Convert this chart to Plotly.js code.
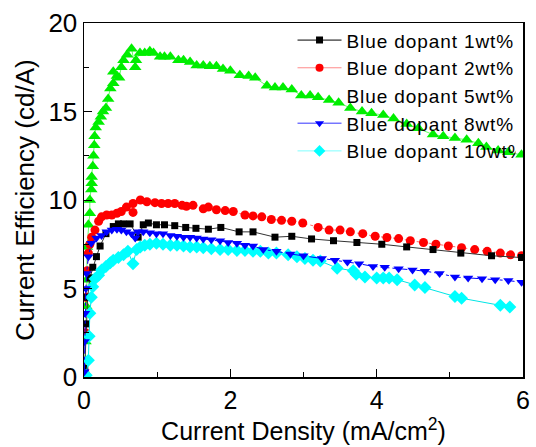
<!DOCTYPE html>
<html><head><meta charset="utf-8">
<script src="https://cdn.plot.ly/plotly-3.0.1.min.js"></script>
<style>html,body{margin:0;padding:0;background:#fff;}#chart{width:536px;height:447px;}
#chart .legendtext{letter-spacing:0.9px;}</style>
</head><body><div id="chart"></div>
<script>
// Blue dopant 1wt% (black squares)
const x1 = [0.01,0.03,0.05,0.08,0.12,0.17,0.22,0.3,0.4,0.47,0.54,0.63,0.74,0.81,0.88,0.99,1.1,1.24,1.39,1.53,1.7,1.87,2.12,2.31,2.61,2.84,3.11,3.41,3.73,4.07,4.41,4.77,5.15,5.57,5.98];
const y1 = [0.5,3.0,4.5,5.6,6.2,6.8,7.4,8.1,8.5,8.65,8.65,8.65,7.9,8.6,8.7,8.6,8.6,8.55,8.45,8.4,8.35,8.45,8.2,8.2,7.9,7.95,7.8,7.7,7.6,7.5,7.35,7.2,7.0,6.85,6.75];
// Blue dopant 2wt% (red circles)
const x2 = [0.01,0.02,0.03,0.04,0.06,0.08,0.105,0.15,0.2,0.24,0.31,0.38,0.45,0.51,0.58,0.67,0.67,0.77,0.86,0.97,1.06,1.15,1.24,1.34,1.4,1.49,1.63,1.7,1.81,1.93,2.04,2.2,2.31,2.43,2.56,2.7,2.84,2.99,3.2,3.35,3.5,3.64,3.81,3.98,4.14,4.3,4.46,4.64,4.81,4.98,5.16,5.34,5.51,5.69,5.83,5.98];
const y2 = [0.3,2.5,4.5,6.0,7.0,7.5,7.9,8.3,8.8,9.05,9.15,9.15,9.25,9.35,9.6,9.3,9.8,10.0,9.9,9.85,9.8,9.8,9.8,9.7,9.65,9.7,9.5,9.6,9.45,9.4,9.35,9.15,9.1,9.05,8.9,8.85,8.8,8.7,8.45,8.3,8.3,8.2,8.1,7.95,7.88,7.82,7.7,7.6,7.5,7.4,7.3,7.2,7.1,7.0,6.9,6.85];
// Blue dopant 5wt% (green triangles)
const x5 = [0.01,0.02,0.03,0.04,0.04,0.06,0.08,0.08,0.1,0.105,0.105,0.12,0.13,0.14,0.145,0.16,0.2,0.23,0.26,0.3,0.33,0.36,0.4,0.4,0.45,0.48,0.51,0.54,0.59,0.65,0.7,0.71,0.765,0.83,0.9,0.95,1.04,1.1,1.18,1.29,1.36,1.45,1.54,1.63,1.72,1.81,1.9,2.0,2.13,2.25,2.34,2.5,2.61,2.72,2.84,2.97,3.09,3.2,3.35,3.48,3.64,3.8,3.93,4.09,4.23,4.41,4.57,4.77,4.91,5.07,5.23,5.39,5.5,5.66,5.8,5.98];
const y5 = [0.3,2.0,4.0,5.5,7.35,8.6,9.25,10.0,10.6,10.95,11.3,11.9,12.5,13.1,13.6,14.1,14.4,14.7,15.0,15.2,15.7,16.3,16.6,17.25,17.0,16.9,17.5,17.9,18.2,18.55,17.5,17.9,18.3,18.3,18.4,18.3,18.1,18.1,18.1,17.9,17.9,17.8,17.6,17.6,17.55,17.55,17.4,17.3,17.05,17.0,16.9,16.45,16.35,16.35,16.25,15.9,15.9,15.8,15.65,15.5,15.2,15.0,14.9,14.8,14.6,14.3,14.05,13.7,13.6,13.5,13.4,13.2,13.0,12.8,12.7,12.55];
// Blue dopant 8wt% (blue down-triangles)
const x8 = [0.005,0.01,0.015,0.025,0.035,0.06,0.1,0.17,0.24,0.31,0.38,0.45,0.51,0.58,0.65,0.7,0.74,0.81,0.9,0.99,1.08,1.18,1.27,1.36,1.45,1.54,1.63,1.74,1.86,1.97,2.09,2.2,2.31,2.45,2.63,2.82,3.0,3.25,3.43,3.6,3.76,3.95,4.11,4.3,4.49,4.66,4.86,5.07,5.25,5.44,5.62,5.8,5.98];
const y8 = [0.3,2.0,3.6,5.0,5.85,6.8,7.55,7.85,8.0,8.2,8.3,8.35,8.3,8.2,8.1,7.85,8.2,8.2,8.15,8.1,8.1,8.0,7.95,7.9,7.9,7.85,7.8,7.75,7.7,7.6,7.55,7.45,7.4,7.2,7.1,6.95,6.85,6.7,6.6,6.5,6.4,6.25,6.2,6.12,6.05,5.98,5.85,5.65,5.6,5.55,5.5,5.45,5.35];
// Blue dopant 10wt% (cyan diamonds)
const x10 = [0.03,0.06,0.07,0.08,0.1,0.12,0.15,0.2,0.24,0.3,0.36,0.4,0.47,0.54,0.6,0.67,0.72,0.77,0.83,0.9,0.99,1.08,1.18,1.27,1.36,1.45,1.54,1.63,1.74,1.86,1.97,2.09,2.2,2.31,2.41,2.52,2.63,2.79,2.91,3.02,3.13,3.23,3.46,3.68,3.72,3.84,4.0,4.09,4.17,4.28,4.52,4.66,5.07,5.16,5.69,5.82];
const y10 = [0.1,0.95,2.3,3.6,4.5,5.1,5.55,5.75,6.05,6.25,6.45,6.6,6.75,6.9,7.1,6.4,7.2,7.35,7.45,7.5,7.55,7.5,7.45,7.45,7.4,7.35,7.35,7.3,7.25,7.2,7.2,7.15,7.15,7.1,7.1,7.0,7.0,6.9,6.8,6.7,6.6,6.55,6.15,6.0,5.8,5.65,5.6,5.6,5.6,5.5,5.2,5.05,4.55,4.45,4.05,3.95];

const names = ['Blue dopant 1wt%','Blue dopant 2wt%','Blue dopant 5wt%','Blue dopant 8wt%','Blue dopant 10wt%'];

const traces = [
  {x:x5, y:y5, mode:'lines+markers', showlegend:false,
   line:{color:'#66ff66', width:1}, marker:{symbol:'triangle-up', size:11, color:'#00ee00'}},
  {x:x2, y:y2, mode:'lines+markers', showlegend:false,
   line:{color:'#ff6666', width:1, dash:'dot'}, marker:{symbol:'circle', size:9, color:'#ff0000'}},
  {x:x1, y:y1, mode:'lines+markers', showlegend:false,
   line:{color:'#333333', width:1}, marker:{symbol:'square', size:7, color:'#000000'}},
  {x:x10, y:y10, mode:'lines+markers', showlegend:false,
   line:{color:'#00e5e5', width:1}, marker:{symbol:'diamond', size:10, color:'#00ffff'}},
  {x:x8, y:y8, mode:'lines+markers', showlegend:false,
   line:{color:'#0000ff', width:1, dash:'dashdot'}, marker:{symbol:'triangle-down', size:9, color:'#0000ff'}},
  // legend entries
  {x:[null], y:[null], name:names[0], mode:'lines+markers', line:{color:'#000', width:1}, marker:{symbol:'square', size:7, color:'#000'}},
  {x:[null], y:[null], name:names[1], mode:'lines+markers', line:{color:'#ff8a8a', width:1}, marker:{symbol:'circle', size:8, color:'#ff0000'}},
  {x:[null], y:[null], name:names[2], mode:'lines+markers', line:{color:'rgba(0,0,0,0)', width:1}, marker:{symbol:'triangle-up', size:8, color:'rgba(0,0,0,0)'}},
  {x:[null], y:[null], name:names[3], mode:'lines+markers', line:{color:'#3333ff', width:1}, marker:{symbol:'triangle-down', size:8, color:'#0000ff'}},
  {x:[null], y:[null], name:names[4], mode:'lines+markers', line:{color:'#7fffff', width:1}, marker:{symbol:'diamond', size:9, color:'#00ffff'}}
];

const layout = {
  width:536, height:447,
  margin:{l:84, r:13, t:23, b:70},
  paper_bgcolor:'#fff', plot_bgcolor:'rgba(0,0,0,0)',
  font:{family:'"Liberation Sans", Arial, sans-serif', color:'#000'},
  showlegend:true,
  legend:{x:0.475, y:1.005, xanchor:'left', yanchor:'top', bgcolor:'rgba(0,0,0,0)', borderwidth:0,
          font:{size:19, color:'#000'}, tracegroupgap:0, itemwidth:44},
  xaxis:{range:[0,6], tickvals:[0,2,4,6], ticks:'inside', ticklen:8, tickwidth:1, tickcolor:'#000',
         minor:{tickvals:[1,3,5], ticks:'inside', ticklen:5, tickcolor:'#000'},
         showgrid:false, zeroline:false, showline:true, linecolor:'#000', linewidth:1.5, mirror:true,
         tickfont:{size:25}, title:{text:'Current Density (mA/cm<sup>2</sup>)', font:{size:25}, standoff:2}},
  yaxis:{range:[0,20], tickvals:[0,5,10,15,20], ticks:'inside', ticklen:8, tickwidth:1, tickcolor:'#000',
         minor:{tickvals:[2.5,7.5,12.5,17.5], ticks:'inside', ticklen:5, tickcolor:'#000'},
         showgrid:false, zeroline:false, showline:true, linecolor:'#000', linewidth:1.5, mirror:true,
         tickfont:{size:26}, title:{text:'Current Efficiency (cd/A)', font:{size:26}, standoff:6}}
};

Plotly.newPlot('chart', traces, layout, {displayModeBar:false, staticPlot:true});
</script>
</body></html>
